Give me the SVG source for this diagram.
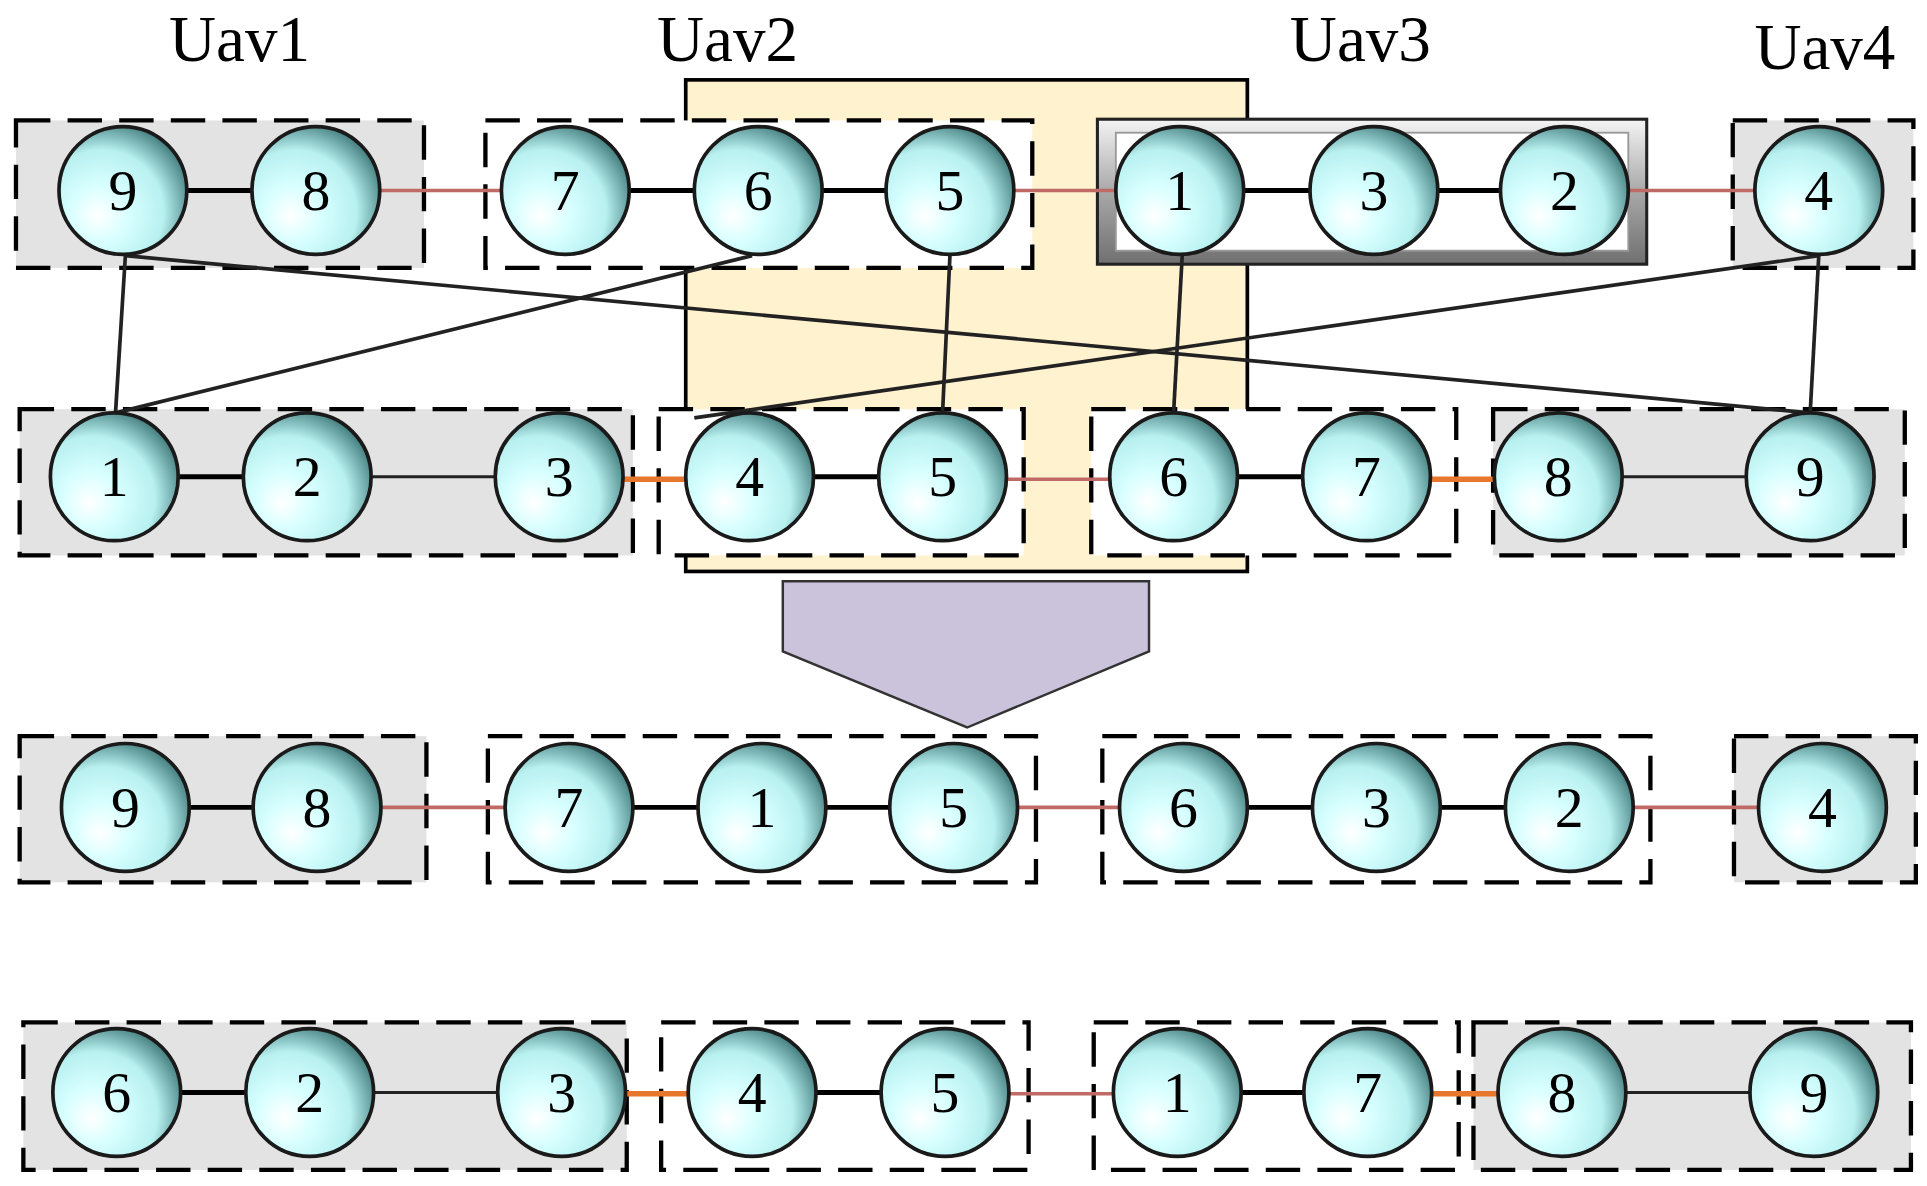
<svg xmlns="http://www.w3.org/2000/svg" width="1927" height="1186" viewBox="0 0 1927 1186">
<defs>
<radialGradient id="ball" cx="0.35" cy="0.65" r="0.75" fx="0.3" fy="0.7">
<stop offset="0" stop-color="#ffffff"/><stop offset="0.3" stop-color="#d8ffff"/><stop offset="0.65" stop-color="#b8f0f0"/><stop offset="1" stop-color="#2f6a6a"/>
</radialGradient>
<linearGradient id="silver" x1="0" y1="0" x2="0" y2="1">
<stop offset="0" stop-color="#f4f4f4"/><stop offset="0.5" stop-color="#a8a8a8"/><stop offset="1" stop-color="#707070"/>
</linearGradient>
<g id="n"><circle r="52" fill="url(#ball)" stroke="#1a1a1a" stroke-width="3"/></g>
</defs>
<style>
.box{stroke:#000;stroke-width:3.5;stroke-dasharray:28 14;}
.g{fill:#e3e3e3}.w{fill:#fff}
.t{font-family:"Liberation Serif",serif;font-size:47px;text-anchor:middle;fill:#000}
.u{font-family:"Liberation Serif",serif;font-size:53px;text-anchor:middle;fill:#000}
.k{stroke:#000;stroke-width:4}.kt{stroke:#222;stroke-width:2.5}
.r{stroke:#c06a66;stroke-width:3}.o{stroke:#e8772e;stroke-width:4.5}
.x{stroke:#222;stroke-width:3}
</style>
<rect width="1927" height="1186" fill="#fff"/>
<g transform="scale(1.2289)">
<g id="labels">
<text class="u" x="195" y="50">Uav1</text><text class="u" x="592" y="50">Uav2</text>
<text class="u" x="1107" y="50">Uav3</text><text class="u" x="1485" y="56">Uav4</text>
</g>
<g id="highlight"><rect x="558" y="65" width="457" height="400" fill="#fff2cf" stroke="#000" stroke-width="3"/></g>
<g id="boxes">
<rect class="box g" x="13" y="98" width="332" height="120"/>
<rect class="box w" x="395" y="98" width="445" height="120"/>
<rect x="893" y="97" width="447" height="118" fill="url(#silver)" stroke="#222" stroke-width="2.5"/>
<rect x="908" y="108" width="417" height="96" fill="#fff" stroke="#999" stroke-width="1.5"/>
<rect class="box g" x="1410" y="98" width="147" height="120"/>
<rect class="box g" x="16" y="333" width="499" height="119"/>
<rect class="box w" x="536" y="333" width="297" height="119"/>
<rect class="box w" x="888" y="333" width="297" height="119"/>
<rect class="box g" x="1215" y="333" width="335" height="119"/>
<rect class="box g" x="16" y="599" width="331" height="119"/>
<rect class="box w" x="397" y="599" width="446" height="119"/>
<rect class="box w" x="897" y="599" width="446" height="119"/>
<rect class="box g" x="1411" y="599" width="148" height="119"/>
<rect class="box g" x="19" y="832" width="491" height="120"/>
<rect class="box w" x="538" y="832" width="299" height="120"/>
<rect class="box w" x="890" y="832" width="297" height="120"/>
<rect class="box g" x="1199" y="832" width="356" height="120"/>
</g>
<g id="arrow"><polygon points="637,473 935,473 935,530 787,592 637,530" fill="#cbc3dc" stroke="#333" stroke-width="2"/></g>
<g id="connectors">
<line class="k" x1="100" y1="155" x2="257" y2="155"/><line class="r" x1="257" y1="155" x2="460" y2="155"/>
<line class="k" x1="460" y1="155" x2="773" y2="155"/><line class="r" x1="773" y1="155" x2="960" y2="155"/>
<line class="k" x1="960" y1="155" x2="1273" y2="155"/><line class="r" x1="1273" y1="155" x2="1480" y2="155"/>
<line class="k" x1="93" y1="388" x2="250" y2="388"/><line class="kt" x1="250" y1="388" x2="455" y2="388"/>
<line class="o" x1="455" y1="390" x2="610" y2="390"/><line class="k" x1="610" y1="388" x2="767" y2="388"/>
<line class="r" x1="767" y1="390" x2="955" y2="390"/><line class="k" x1="955" y1="388" x2="1112" y2="388"/>
<line class="o" x1="1112" y1="390" x2="1268" y2="390"/><line class="kt" x1="1268" y1="388" x2="1473" y2="388"/>
<line class="k" x1="102" y1="657" x2="258" y2="657"/><line class="r" x1="258" y1="657" x2="463" y2="657"/>
<line class="k" x1="463" y1="657" x2="776" y2="657"/><line class="r" x1="776" y1="657" x2="963" y2="657"/>
<line class="k" x1="963" y1="657" x2="1277" y2="657"/><line class="r" x1="1277" y1="657" x2="1483" y2="657"/>
<line class="k" x1="95" y1="889" x2="252" y2="889"/><line class="kt" x1="252" y1="889" x2="457" y2="889"/>
<line class="o" x1="457" y1="890" x2="612" y2="890"/><line class="k" x1="612" y1="889" x2="769" y2="889"/>
<line class="r" x1="769" y1="890" x2="958" y2="890"/><line class="k" x1="958" y1="889" x2="1113" y2="889"/>
<line class="o" x1="1113" y1="890" x2="1271" y2="890"/><line class="kt" x1="1271" y1="889" x2="1476" y2="889"/>
<line class="x" x1="102" y1="208" x2="94" y2="336"/>
<line class="x" x1="102" y1="208" x2="1473" y2="336"/>
<line class="x" x1="612" y1="208" x2="94" y2="336"/>
<line class="x" x1="773" y1="208" x2="767" y2="336"/>
<line class="x" x1="962" y1="208" x2="955" y2="336"/>
<line class="x" x1="1480" y1="208" x2="565" y2="340"/>
<line class="x" x1="1480" y1="208" x2="1473" y2="336"/>
</g>
<g id="row1">
<g id="r1n9"><use href="#n" x="100" y="155"/><text class="t" x="100" y="171">9</text></g>
<g id="r1n8"><use href="#n" x="257" y="155"/><text class="t" x="257" y="171">8</text></g>
<g id="r1n7"><use href="#n" x="460" y="155"/><text class="t" x="460" y="171">7</text></g>
<g id="r1n6"><use href="#n" x="617" y="155"/><text class="t" x="617" y="171">6</text></g>
<g id="r1n5"><use href="#n" x="773" y="155"/><text class="t" x="773" y="171">5</text></g>
<g id="r1n1"><use href="#n" x="960" y="155"/><text class="t" x="960" y="171">1</text></g>
<g id="r1n3"><use href="#n" x="1118" y="155"/><text class="t" x="1118" y="171">3</text></g>
<g id="r1n2"><use href="#n" x="1273" y="155"/><text class="t" x="1273" y="171">2</text></g>
<g id="r1n4"><use href="#n" x="1480" y="155"/><text class="t" x="1480" y="171">4</text></g>
</g>
<g id="row2">
<g id="r2n1"><use href="#n" x="93" y="388"/><text class="t" x="93" y="404">1</text></g>
<g id="r2n2"><use href="#n" x="250" y="388"/><text class="t" x="250" y="404">2</text></g>
<g id="r2n3"><use href="#n" x="455" y="388"/><text class="t" x="455" y="404">3</text></g>
<g id="r2n4"><use href="#n" x="610" y="388"/><text class="t" x="610" y="404">4</text></g>
<g id="r2n5"><use href="#n" x="767" y="388"/><text class="t" x="767" y="404">5</text></g>
<g id="r2n6"><use href="#n" x="955" y="388"/><text class="t" x="955" y="404">6</text></g>
<g id="r2n7"><use href="#n" x="1112" y="388"/><text class="t" x="1112" y="404">7</text></g>
<g id="r2n8"><use href="#n" x="1268" y="388"/><text class="t" x="1268" y="404">8</text></g>
<g id="r2n9"><use href="#n" x="1473" y="388"/><text class="t" x="1473" y="404">9</text></g>
</g>
<g id="row3">
<g id="r3n9"><use href="#n" x="102" y="657"/><text class="t" x="102" y="673">9</text></g>
<g id="r3n8"><use href="#n" x="258" y="657"/><text class="t" x="258" y="673">8</text></g>
<g id="r3n7"><use href="#n" x="463" y="657"/><text class="t" x="463" y="673">7</text></g>
<g id="r3n1"><use href="#n" x="620" y="657"/><text class="t" x="620" y="673">1</text></g>
<g id="r3n5"><use href="#n" x="776" y="657"/><text class="t" x="776" y="673">5</text></g>
<g id="r3n6"><use href="#n" x="963" y="657"/><text class="t" x="963" y="673">6</text></g>
<g id="r3n3"><use href="#n" x="1120" y="657"/><text class="t" x="1120" y="673">3</text></g>
<g id="r3n2"><use href="#n" x="1277" y="657"/><text class="t" x="1277" y="673">2</text></g>
<g id="r3n4"><use href="#n" x="1483" y="657"/><text class="t" x="1483" y="673">4</text></g>
</g>
<g id="row4">
<g id="r4n6"><use href="#n" x="95" y="889"/><text class="t" x="95" y="905">6</text></g>
<g id="r4n2"><use href="#n" x="252" y="889"/><text class="t" x="252" y="905">2</text></g>
<g id="r4n3"><use href="#n" x="457" y="889"/><text class="t" x="457" y="905">3</text></g>
<g id="r4n4"><use href="#n" x="612" y="889"/><text class="t" x="612" y="905">4</text></g>
<g id="r4n5"><use href="#n" x="769" y="889"/><text class="t" x="769" y="905">5</text></g>
<g id="r4n1"><use href="#n" x="958" y="889"/><text class="t" x="958" y="905">1</text></g>
<g id="r4n7"><use href="#n" x="1113" y="889"/><text class="t" x="1113" y="905">7</text></g>
<g id="r4n8"><use href="#n" x="1271" y="889"/><text class="t" x="1271" y="905">8</text></g>
<g id="r4n9"><use href="#n" x="1476" y="889"/><text class="t" x="1476" y="905">9</text></g>
</g>
</g>
</svg>
